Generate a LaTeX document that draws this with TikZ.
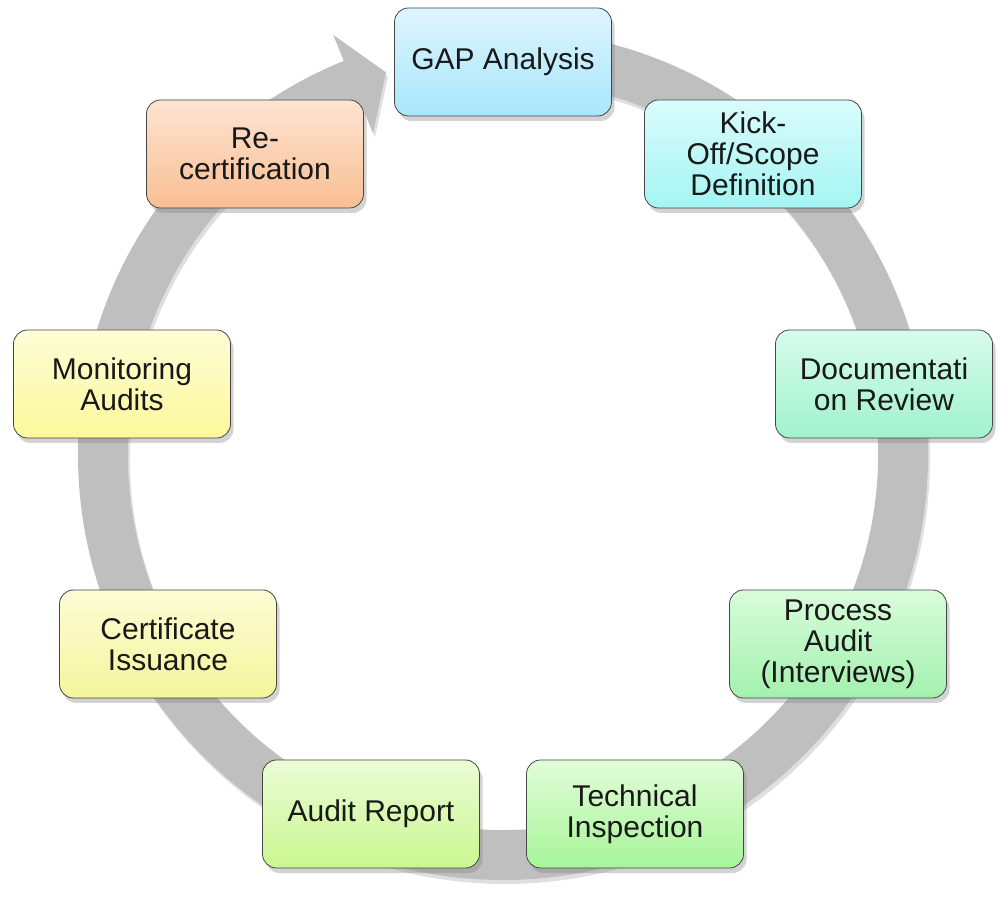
\documentclass[tikz,border=0pt]{standalone}
\usepackage{fontspec}
\setmainfont{Liberation Sans}
\usetikzlibrary{calc,shadows}

\definecolor{ringgray}{RGB}{191,191,191}
\definecolor{boxline}{RGB}{70,70,70}

\begin{document}
\begin{tikzpicture}[x=1pt, y=1pt,
		stagebox/.style = {draw = boxline, line width = 0.8pt, rounded corners = 14pt,
			minimum width = 217pt, minimum height = 108pt, align = center,
			font = \fontsize{30}{31}\selectfont, text = black!90,
			drop shadow = {shadow xshift = 3pt, shadow yshift = -5pt, opacity = 0.35}}]
		\useasboundingbox (0, 0) rectangle (1008, 899);

		% ring arrow
		\coordinate (c) at (503, 444);
		\fill[ringgray, drop shadow = {shadow xshift = 2pt, shadow yshift = -4pt, opacity = 0.25}]
			($(c)+(90:425pt)$) arc[start angle = 90, end angle = -248, radius = 425pt]
			-- ($(c)+(-248:453pt)$) -- ($(c)+(-253:400pt)$) -- ($(c)+(-248:347pt)$)
			-- ($(c)+(-248:375pt)$) arc[start angle = -248, end angle = 90, radius = 375pt] -- cycle;

		% stages
		\node[stagebox, top color = {rgb,255:red,222;green,245;blue,254}, bottom color = {rgb,255:red,168;green,230;blue,251}] (gap) at (503, 837) {GAP Analysis};
		\node[stagebox, top color = {rgb,255:red,218;green,252;blue,252}, bottom color = {rgb,255:red,164;green,245;blue,243}] (kick) at (753, 745) {Kick-\\Off/Scope\\Definition};
		\node[stagebox, top color = {rgb,255:red,216;green,252;blue,236}, bottom color = {rgb,255:red,160;green,242;blue,206}] (doc) at (884, 515) {Documentati\\on Review};
		\node[stagebox, top color = {rgb,255:red,216;green,252;blue,219}, bottom color = {rgb,255:red,163;green,241;blue,174}] (proc) at (838, 255) {Process\\Audit\\(Interviews)};
		\node[stagebox, top color = {rgb,255:red,226;green,253;blue,216}, bottom color = {rgb,255:red,166;green,245;blue,152}] (tech) at (635, 85) {Technical\\Inspection};
		\node[stagebox, top color = {rgb,255:red,234;green,252;blue,214}, bottom color = {rgb,255:red,202;green,247;blue,143}] (report) at (371, 85) {Audit Report};
		\node[stagebox, top color = {rgb,255:red,252;green,252;blue,214}, bottom color = {rgb,255:red,245;green,245;blue,155}] (cert) at (168, 255) {Certificate\\Issuance};
		\node[stagebox, top color = {rgb,255:red,254;green,253;blue,214}, bottom color = {rgb,255:red,252;green,248;blue,155}] (monit) at (122, 515) {Monitoring\\Audits};
		\node[stagebox, top color = {rgb,255:red,253;green,228;blue,210}, bottom color = {rgb,255:red,249;green,190;blue,147}] (recert) at (255, 745) {Re-\\certification};

\end{tikzpicture}
\end{document}
